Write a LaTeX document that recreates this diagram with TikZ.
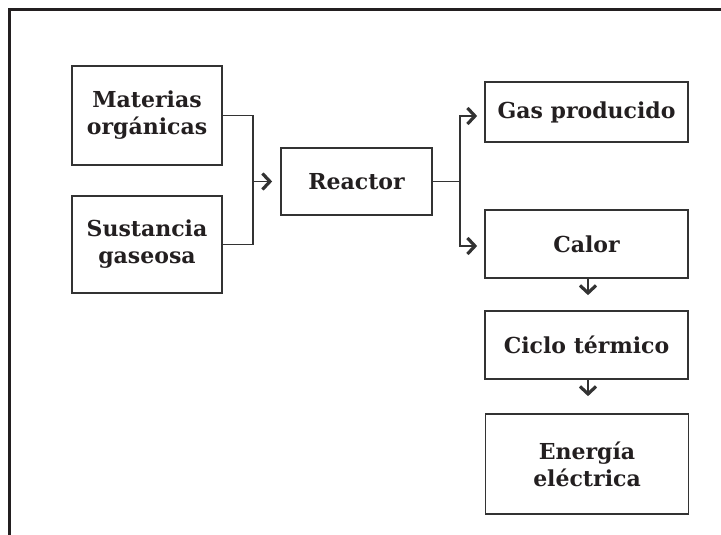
\documentclass[tikz,border=0pt]{standalone}
\usepackage{fontspec}
\setmainfont{DejaVu Serif}
\usetikzlibrary{arrows.meta,positioning,calc}
\definecolor{ink}{HTML}{231F20}
\definecolor{boxline}{HTML}{333333}
\begin{document}
\begin{tikzpicture}[x=1pt,y=-1pt,
  box/.style={draw=boxline,line width=1.7pt,rectangle,inner sep=0pt,align=center,
     font=\fontsize{22}{27}\selectfont\bfseries,text=ink},
  conn/.style={draw=boxline,line width=1.4pt},
  arr/.style={conn,-{Straight Barb[length=7.5pt,width=16pt,line width=3.2pt]}}]
\useasboundingbox (0,0) rectangle (721,535);
\draw[ink,line width=3pt] (9.5,535) -- (9.5,9.5) -- (721,9.5);
\node[box,minimum width=150pt,minimum height=99pt] (mat) at (147,115.5) {Materias\\orgánicas};
\node[box,minimum width=150pt,minimum height=97pt] (sus) at (147,244.5) {Sustancia\\gaseosa};
\node[box,minimum width=151pt,minimum height=67pt] (rea) at (356.5,181.5) {Reactor};
\node[box,minimum width=203pt,minimum height=60pt] (gas) at (586.5,112) {Gas producido};
\node[box,minimum width=203pt,minimum height=68pt] (cal) at (586.5,244) {Calor};
\node[box,minimum width=203pt,minimum height=68pt] (cic) at (586.5,345) {Ciclo térmico};
\node[box,minimum width=203pt,minimum height=100pt] (ene) at (587,464) {Energía\\eléctrica};
% merge into reactor
\coordinate (jl) at (253,181.5);
\draw[conn] (mat.east) -| (jl) |- (sus.east);
\draw[arr,shorten >=8pt] (jl) -- (rea.west);
% split from reactor
\coordinate (jr) at (460,181.5);
\draw[conn] (rea.east) -- (jr);
\draw[arr,shorten >=7pt] (jr) |- ($(gas.west)+(0,4)$);
\draw[arr,shorten >=7pt] (jr) |- ($(cal.west)+(0,2)$);
% vertical chain
\draw[arr,shorten >=15pt] ($(cal.south)+(1.5,0)$) -- ($(cic.north)+(1.5,0)$);
\draw[arr,shorten >=17pt] ($(cic.south)+(1.5,0)$) -- ($(ene.north)+(1,0)$);
\end{tikzpicture}
\end{document}
